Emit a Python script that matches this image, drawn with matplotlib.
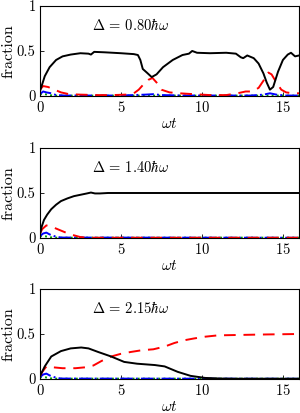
import matplotlib
matplotlib.use("Agg")
import matplotlib.pyplot as plt

plt.rcParams['font.family'] = ['serif']
plt.rcParams['font.serif'] = ['cmr10', 'DejaVu Serif']
plt.rcParams['mathtext.fontset'] = 'cm'
plt.rcParams['axes.formatter.use_mathtext'] = True
plt.rcParams['axes.unicode_minus'] = False

# panel labels
deltas = [r'$\Delta\,=\,0.80\hbar\omega$', r'$\Delta\,=\,1.40\hbar\omega$', r'$\Delta\,=\,2.15\hbar\omega$']

# panel 1: Delta = 0.80
t_black1 = [0, 0.3, 0.6, 1.0, 1.4, 1.9, 2.5, 3.0, 3.15, 3.35, 4.0, 5.0, 5.8, 6.05, 6.2, 6.35,
            6.6, 6.9, 7.2, 7.6, 8.2, 8.8, 9.2, 9.4, 9.7, 10.5, 11.5, 12.1, 12.4, 12.55, 12.8,
            13.2, 13.5, 13.8, 14.0, 14.2, 14.4, 14.7, 15.0, 15.3, 15.5, 15.75, 16.0]
black1 = [0.05, 0.22, 0.32, 0.40, 0.44, 0.46, 0.475, 0.47, 0.46, 0.49, 0.485, 0.475, 0.465, 0.455, 0.40, 0.30,
          0.26, 0.21, 0.24, 0.32, 0.40, 0.455, 0.47, 0.50, 0.48, 0.475, 0.48, 0.47, 0.43, 0.42, 0.45,
          0.42, 0.36, 0.25, 0.15, 0.07, 0.10, 0.27, 0.40, 0.46, 0.48, 0.44, 0.45]
t_red1 = [0, 0.2, 0.5, 0.9, 1.3, 1.8, 2.5, 3.5, 4.5, 5.3, 5.8, 6.1, 6.4, 6.7, 6.95, 7.2, 7.5, 8.0,
          8.6, 9.5, 10.5, 11.5, 12.2, 12.7, 13.1, 13.5, 13.8, 14.1, 14.3, 14.6, 14.9, 15.2, 15.6, 16.0]
red1 = [0.07, 0.11, 0.10, 0.07, 0.04, 0.02, 0.015, 0.01, 0.01, 0.015, 0.03, 0.07, 0.13, 0.18, 0.20, 0.15, 0.07, 0.04,
        0.03, 0.02, 0.01, 0.01, 0.03, 0.05, 0.05, 0.09, 0.17, 0.26, 0.24, 0.15, 0.07, 0.04, 0.03, 0.03]
t_blue1 = [0, 0.2, 0.4, 0.7, 1.0, 1.5, 3, 5, 6.5, 7, 7.5, 9, 11, 13, 13.8, 14.2, 14.6, 15.2, 16]
blue1 = [0.02, 0.05, 0.04, 0.03, 0.01, 0.005, 0.005, 0.005, 0.015, 0.02, 0.01, 0.005, 0.005, 0.005,
         0.015, 0.03, 0.015, 0.005, 0.005]

# panel 2: Delta = 1.40
t_black2 = [0, 0.1, 0.25, 0.45, 0.7, 1.0, 1.3, 1.7, 2.1, 2.5, 2.9, 3.15, 3.4, 3.7, 4.2, 5, 16]
black2 = [0.03, 0.12, 0.2, 0.26, 0.32, 0.37, 0.41, 0.44, 0.465, 0.48, 0.495, 0.505, 0.495, 0.495, 0.5, 0.5, 0.5]
t_red2 = [0, 0.15, 0.4, 0.8, 1.2, 1.6, 2.0, 2.5, 3, 16]
red2 = [0.05, 0.1, 0.14, 0.12, 0.09, 0.06, 0.035, 0.01, 0.003, 0.003]
t_blue2 = [0, 0.2, 0.4, 0.6, 0.9, 1.3, 16]
blue2 = [0.02, 0.05, 0.06, 0.04, 0.02, 0.005, 0.003]

# panel 3: Delta = 2.15
t_black3 = [0, 0.3, 0.7, 1.3, 1.9, 2.55, 3.0, 3.6, 4.4, 5.2, 6.0, 7.1, 7.7, 8.5, 9.3, 10.2, 11.2, 12, 16]
black3 = [0.03, 0.14, 0.25, 0.31, 0.34, 0.35, 0.34, 0.30, 0.25, 0.19, 0.17, 0.155, 0.14, 0.08, 0.035, 0.012,
          0.005, 0.003, 0.003]
t_red3 = [0, 0.15, 0.4, 0.8, 1.4, 2.2, 2.8, 3.3, 3.8, 4.4, 5.0, 5.6, 6.3, 7.0, 7.7, 8.3, 8.9, 9.5, 10.2,
          11.0, 12.5, 14, 16]
red3 = [0.03, 0.08, 0.14, 0.13, 0.12, 0.12, 0.13, 0.15, 0.2, 0.25, 0.28, 0.30, 0.32, 0.33, 0.36, 0.40, 0.43,
        0.45, 0.47, 0.485, 0.49, 0.495, 0.5]
t_blue3 = [0, 0.2, 0.4, 0.6, 0.9, 1.3, 16]
blue3 = [0.02, 0.05, 0.06, 0.04, 0.02, 0.005, 0.003]

t_green = [0, 0.3, 0.8, 16]
green = [0.02, 0.02, 0.004, 0.004]

panels = [
    (t_black1, black1, t_red1, red1, t_blue1, blue1),
    (t_black2, black2, t_red2, red2, t_blue2, blue2),
    (t_black3, black3, t_red3, red3, t_blue3, blue3),
]
xticks = [0, 5, 10, 15]
yticks = [0, 0.5, 1]
ytick_labels = ['0', '0.5', '1']

fig = plt.figure(figsize=(3.0, 4.13), dpi=100)
bottoms = [0.7676, 0.4237, 0.0823]

for i, (tb, b, tr, r, tbl, bl) in enumerate(panels):
    ax = fig.add_axes([0.133, bottoms[i], 0.864, 0.218])
    ax.plot(t_green, green, color='#00a000', ls=':', lw=1.4)
    ax.plot(tbl, bl, color='blue', ls='-.', lw=1.4)
    ax.plot(tr, r, color='red', ls=(0, (6, 4)), lw=1.4)
    ax.plot(tb, b, color='black', ls='-', lw=1.4)
    ax.set_xlim(0, 16)
    ax.set_ylim(0, 1)
    ax.set_xticks(xticks)
    ax.set_yticks(yticks)
    ax.set_yticklabels(ytick_labels)
    ax.tick_params(direction='in', length=3, width=0.6, labelsize=10.5, pad=3)
    for s in ax.spines.values():
        s.set_linewidth(0.8)
    ax.set_xlabel(r'$\omega t$', fontsize=11, labelpad=1)
    ax.set_ylabel('fraction', fontsize=11.5)
    ax.yaxis.set_label_coords(-0.095, 0.5)
    ax.text(3.2, 0.79, deltas[i], fontsize=10.5, va='center', ha='left')

fig.savefig('out.png', dpi=100)
